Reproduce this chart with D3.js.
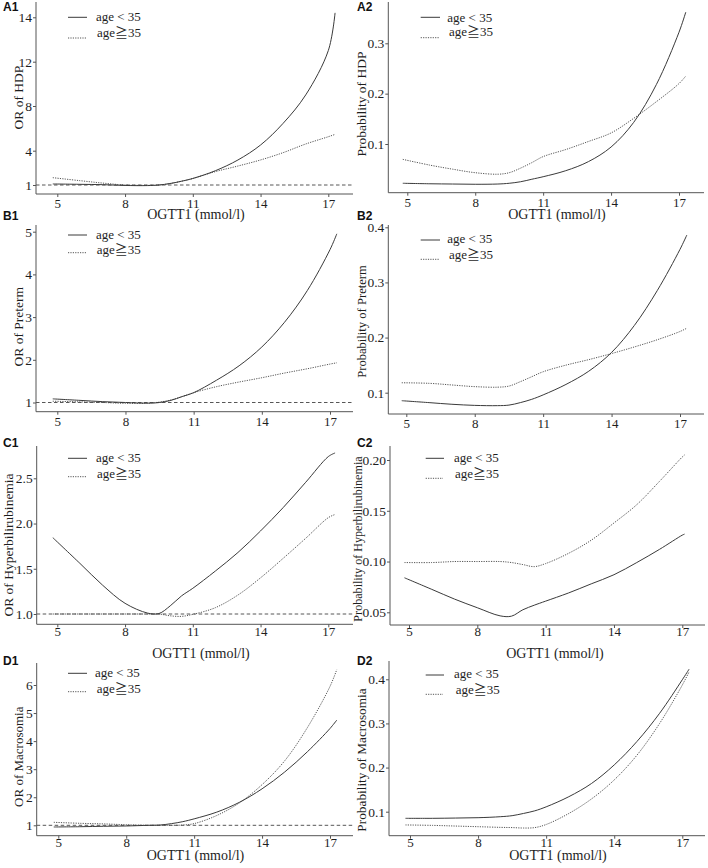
<!DOCTYPE html>
<html><head><meta charset="utf-8">
<script src="https://cdn.jsdelivr.net/npm/d3@7"></script>
<style>body{margin:0;background:#fff}svg{display:block}</style>
</head><body>
<svg id="c" width="708" height="868"></svg>
<script>
// ---------- data ----------
const ogtt   = [4.8, 6, 7, 8, 9, 9.5, 10, 10.5, 11, 12, 13, 14, 15, 16, 17, 17.3];
const ogttC2 = [4.8, 6, 7, 8, 9, 9.5, 10, 10.5, 11, 12, 13, 14, 15, 16, 17, 17.1];
const seriesNames = ["age < 35", "age\u226735"];
const xTitle = "OGTT1 (mmol/l)";
const xTicks = [5, 8, 11, 14, 17];

const yTicksA1 = [1, 4, 8, 12, 14];
const yTicksA2 = [0.1, 0.2, 0.3];
const yTicksB1 = [1, 2, 3, 4, 5];
const yTicksB2 = [0.1, 0.2, 0.3, 0.4];
const yTicksC1 = [1.0, 1.5, 2.0, 2.5];
const yTicksC2 = [0.05, 0.10, 0.15, 0.20];
const yTicksD1 = [1, 2, 3, 4, 5, 6];
const yTicksD2 = [0.1, 0.2, 0.3, 0.4];

const hdpOR_lt35   = [1.09, 1.06, 1.03, 0.96, 0.95, 1.0, 1.13, 1.33, 1.57, 2.25, 3.19, 4.51, 6.45, 9.0, 12.5, 14.2];
const hdpOR_ge35   = [1.64, 1.38, 1.17, 1.0, 0.97, 1.0, 1.13, 1.33, 1.57, 2.17, 2.66, 3.19, 3.83, 4.6, 5.25, 5.46];
const hdpPr_lt35   = [0.022, 0.021, 0.0205, 0.020, 0.0205, 0.022, 0.025, 0.030, 0.035, 0.047, 0.065, 0.094, 0.143, 0.218, 0.322, 0.362];
const hdpPr_ge35   = [0.0695, 0.058, 0.050, 0.043, 0.040, 0.043, 0.052, 0.063, 0.075, 0.089, 0.105, 0.122, 0.151, 0.184, 0.22, 0.235];
const pretOR_lt35  = [1.085, 1.05, 1.02, 1.0, 0.985, 1.0, 1.05, 1.14, 1.23, 1.52, 1.86, 2.3, 2.88, 3.62, 4.58, 4.95];
const pretOR_ge35  = [1.03, 1.015, 1.0, 0.98, 0.985, 1.01, 1.06, 1.14, 1.23, 1.37, 1.48, 1.58, 1.69, 1.79, 1.9, 1.93];
const pretPr_lt35  = [0.0855, 0.082, 0.079, 0.077, 0.0765, 0.0775, 0.082, 0.088, 0.096, 0.115, 0.139, 0.173, 0.222, 0.285, 0.36, 0.386];
const pretPr_ge35  = [0.118, 0.117, 0.114, 0.111, 0.11, 0.112, 0.12, 0.129, 0.138, 0.15, 0.16, 0.171, 0.183, 0.196, 0.211, 0.217];
const hypOR_lt35   = [1.844, 1.56, 1.32, 1.118, 1.01, 1.005, 1.09, 1.2, 1.284, 1.475, 1.68, 1.918, 2.176, 2.456, 2.74, 2.78];
const hypOR_ge35   = [1.0, 1.0, 1.0, 1.0, 1.0, 1.0, 0.98, 0.974, 0.996, 1.07, 1.21, 1.40, 1.615, 1.837, 2.065, 2.10];
const hypPr_lt35   = [0.084, 0.0726, 0.063, 0.0545, 0.0465, 0.0462, 0.0525, 0.057, 0.061, 0.069, 0.078, 0.087, 0.099, 0.112, 0.126, 0.127];
const hypPr_ge35   = [0.099, 0.099, 0.100, 0.100, 0.100, 0.099, 0.097, 0.095, 0.098, 0.108, 0.121, 0.138, 0.156, 0.179, 0.203, 0.205];
const macOR_lt35   = [0.94, 0.95, 0.965, 0.976, 1.0, 1.01, 1.06, 1.13, 1.23, 1.47, 1.82, 2.3, 2.9, 3.62, 4.45, 4.75];
const macOR_ge35   = [1.107, 1.07, 1.05, 1.02, 1.0, 1.0, 1.0, 1.01, 1.06, 1.35, 1.8, 2.45, 3.3, 4.48, 5.95, 6.55];
const macPr_lt35   = [0.085, 0.085, 0.0856, 0.0864, 0.0887, 0.091, 0.096, 0.102, 0.111, 0.134, 0.164, 0.206, 0.259, 0.323, 0.399, 0.423];
const macPr_ge35   = [0.07, 0.069, 0.0675, 0.066, 0.0645, 0.064, 0.063, 0.064, 0.071, 0.096, 0.129, 0.172, 0.228, 0.30, 0.387, 0.417];

// ---------- panel definitions ----------
const panels = [
  {id:"A1", yTitle:"OR of HDP", ticks:yTicksA1, fmt:d3.format("d"), x:ogtt, a:hdpOR_lt35, b:hdpOR_ge35, ref:true},
  {id:"A2", yTitle:"Probability of HDP", ticks:yTicksA2, fmt:d3.format(".1f"), x:ogtt, a:hdpPr_lt35, b:hdpPr_ge35, ref:false},
  {id:"B1", yTitle:"OR of Preterm", ticks:yTicksB1, fmt:d3.format("d"), x:ogtt, a:pretOR_lt35, b:pretOR_ge35, ref:true},
  {id:"B2", yTitle:"Probability of Preterm", ticks:yTicksB2, fmt:d3.format(".1f"), x:ogtt, a:pretPr_lt35, b:pretPr_ge35, ref:false},
  {id:"C1", yTitle:"OR of Hyperbilirubinemia", ticks:yTicksC1, fmt:d3.format(".1f"), x:ogtt, a:hypOR_lt35, b:hypOR_ge35, ref:true},
  {id:"C2", yTitle:"Probability of Hyperbilirubinemia", ticks:yTicksC2, fmt:d3.format(".2f"), x:ogttC2, a:hypPr_lt35, b:hypPr_ge35, ref:false},
  {id:"D1", yTitle:"OR of Macrosomia", ticks:yTicksD1, fmt:d3.format("d"), x:ogtt, a:macOR_lt35, b:macOR_ge35, ref:true},
  {id:"D2", yTitle:"Probability of Macrosomia", ticks:yTicksD2, fmt:d3.format(".1f"), x:ogtt, a:macPr_lt35, b:macPr_ge35, ref:false}
];

// ---------- layout (pixels) ----------
const layout = {
  A1:{L:36, R:353, top:2, bot:194, p5:57.3, p17:328.3, yPx:[185,150.7,106,61.7,17.3], piece:true, xPad:2,
      xt:[196,219], yt:[23,97.5,13.5], lab:[3,11], lg:{x1:68,x2:87,tx1:96,tx2:97,y1:17.3,t1:21,y2:38,t2:36.5}},
  A2:{L:388.3, R:704, top:2, bot:192.7, p5:407.3, p17:679, yPx:[144,43.3], xPad:2,
      xt:[557,219], yt:[366,104,13.5], lab:[357,11], lg:{x1:420.7,x2:440,tx1:447.3,tx2:449,y1:17.3,t1:21.5,y2:37.7,t2:36}},
  B1:{L:36, R:353, top:225, bot:411.7, p5:57.3, p17:330, yPx:[402.5,231.7], xPad:2,
      xt:null, yt:[23,326.7,13.5], lab:[3,220], lg:{x1:68,x2:87,tx1:96,tx2:96.7,y1:235,t1:239,y2:252.7,t2:254}},
  B2:{L:388.3, R:704, top:225, bot:414, p5:406.3, p17:680, yPx:[392.7,227.3], xPad:2,
      xt:null, yt:[366,321.5,12.6], lab:[357,220], lg:{x1:420.7,x2:440,tx1:447.3,tx2:449,y1:240,t1:243.3,y2:259.3,t2:258.5}},
  C1:{L:36.7, R:353, top:446, bot:624.3, p5:57.3, p17:328.3, yPx:[614,478.3], xPad:-1,
      xt:[201,657.5], yt:[12.5,545,13.5], lab:[3,447], lg:{x1:68,x2:87,tx1:96,tx2:97,y1:458.3,t1:462,y2:476.7,t2:477.5}},
  C2:{L:390, R:705, top:446, bot:625, p5:409, p17:682.3, yPx:[612.3,460], xPad:-1,
      xt:[555,657.5], yt:[361.5,539,12.1], lab:[357,447], lg:{x1:425.7,x2:444,tx1:454,tx2:455,y1:458.3,t1:462,y2:478.3,t2:477.5}},
  D1:{L:36.7, R:353, top:663, bot:835.7, p5:58.3, p17:330, yPx:[825.3,685], xPad:-0.5,
      xt:[195.5,860], yt:[23,756.7,13], lab:[3,665], lg:{x1:68,x2:87,tx1:95,tx2:96.7,y1:673.3,t1:677,y2:691.7,t2:692.5}},
  D2:{L:389, R:705, top:661, bot:835.7, p5:410, p17:682.3, yPx:[811.7,679.3], xPad:-0.5,
      xt:[558,860], yt:[366,760,13.3], lab:[357,665], lg:{x1:425.7,x2:444,tx1:454,tx2:455.7,y1:675,t1:678.3,y2:694.3,t2:693.5}}
};

const SERIF = "'Liberation Serif','Times New Roman',serif";
const SERIF_SYM = "'Liberation Serif','Noto Sans CJK JP','DejaVu Serif',serif";
const AX = "#555", TXT = "#1e1e1e";

const svg = d3.select("#c");

panels.forEach(p => {
  const g = layout[p.id];
  const x = d3.scaleLinear().domain([5, 17]).range([g.p5, g.p17]);
  const yDom = g.piece ? p.ticks : [p.ticks[0], p.ticks[p.ticks.length - 1]];
  const y = d3.scaleLinear().domain(yDom).range(g.yPx);
  const pg = svg.append("g");

  if (p.ref) {
    pg.append("line").attr("x1", g.L).attr("x2", g.R).attr("y1", y(1)).attr("y2", y(1))
      .attr("stroke", "#444").attr("stroke-width", 0.9).attr("stroke-dasharray", "3.5,2.5");
  }

  pg.append("line").attr("x1", g.L).attr("x2", g.R).attr("y1", g.bot).attr("y2", g.bot)
    .attr("stroke", AX).attr("stroke-width", 1);
  pg.append("line").attr("x1", g.L).attr("x2", g.L).attr("y1", g.top).attr("y2", g.bot)
    .attr("stroke", AX).attr("stroke-width", 1);

  const xa = pg.append("g").attr("transform", `translate(0,${g.bot})`)
    .call(d3.axisBottom(x).tickValues(xTicks).tickSize(3).tickSizeOuter(0).tickPadding(g.xPad).tickFormat(d3.format("d")));
  xa.select(".domain").remove();
  xa.selectAll("line").attr("stroke", AX);
  xa.selectAll("text").attr("font-family", SERIF).attr("font-size", 13).attr("fill", TXT);

  const ya = pg.append("g").attr("transform", `translate(${g.L},0)`)
    .call(d3.axisLeft(y).tickValues(p.ticks).tickSize(3).tickSizeOuter(0).tickPadding(1).tickFormat(p.fmt));
  ya.select(".domain").remove();
  ya.selectAll("line").attr("stroke", AX);
  ya.selectAll("text").attr("font-family", SERIF).attr("font-size", 13.5).attr("fill", TXT);

  const line = d3.line().x(d => x(d[0])).y(d => y(d[1])).curve(d3.curveCatmullRom.alpha(0.5));
  pg.append("path").datum(p.x.map((v, i) => [v, p.b[i]])).attr("d", line)
    .attr("fill", "none").attr("stroke", "#555").attr("stroke-width", 1).attr("stroke-dasharray", "1.2,1.2");
  pg.append("path").datum(p.x.map((v, i) => [v, p.a[i]])).attr("d", line)
    .attr("fill", "none").attr("stroke", "#3a3a3a").attr("stroke-width", 1);

  const lg = g.lg;
  pg.append("line").attr("x1", lg.x1).attr("x2", lg.x2).attr("y1", lg.y1).attr("y2", lg.y1)
    .attr("stroke", "#3a3a3a").attr("stroke-width", 1);
  pg.append("line").attr("x1", lg.x1).attr("x2", lg.x2 - 1).attr("y1", lg.y2).attr("y2", lg.y2)
    .attr("stroke", "#555").attr("stroke-width", 1).attr("stroke-dasharray", "1.2,1.2");
  pg.append("text").attr("x", lg.tx1).attr("y", lg.t1).text(seriesNames[0])
    .attr("font-family", SERIF_SYM).attr("font-size", 13).attr("fill", TXT);
  pg.append("text").attr("x", lg.tx2).attr("y", lg.t2).text(seriesNames[1])
    .attr("font-family", SERIF_SYM).attr("font-size", 13).attr("fill", TXT);

  if (g.xt) {
    pg.append("text").attr("x", g.xt[0]).attr("y", g.xt[1]).attr("text-anchor", "middle")
      .text(xTitle).attr("font-family", SERIF).attr("font-size", 14).attr("fill", TXT);
  }
  pg.append("text").attr("transform", `translate(${g.yt[0]},${g.yt[1]}) rotate(-90)`)
    .attr("text-anchor", "middle").text(p.yTitle)
    .attr("font-family", SERIF).attr("font-size", g.yt[2]).attr("fill", TXT);

  pg.append("text").attr("x", g.lab[0]).attr("y", g.lab[1]).text(p.id)
    .attr("font-family", "'Liberation Sans',Arial,sans-serif").attr("font-weight", "bold")
    .attr("font-size", 12).attr("fill", "#111");
});
</script>
</body></html>
